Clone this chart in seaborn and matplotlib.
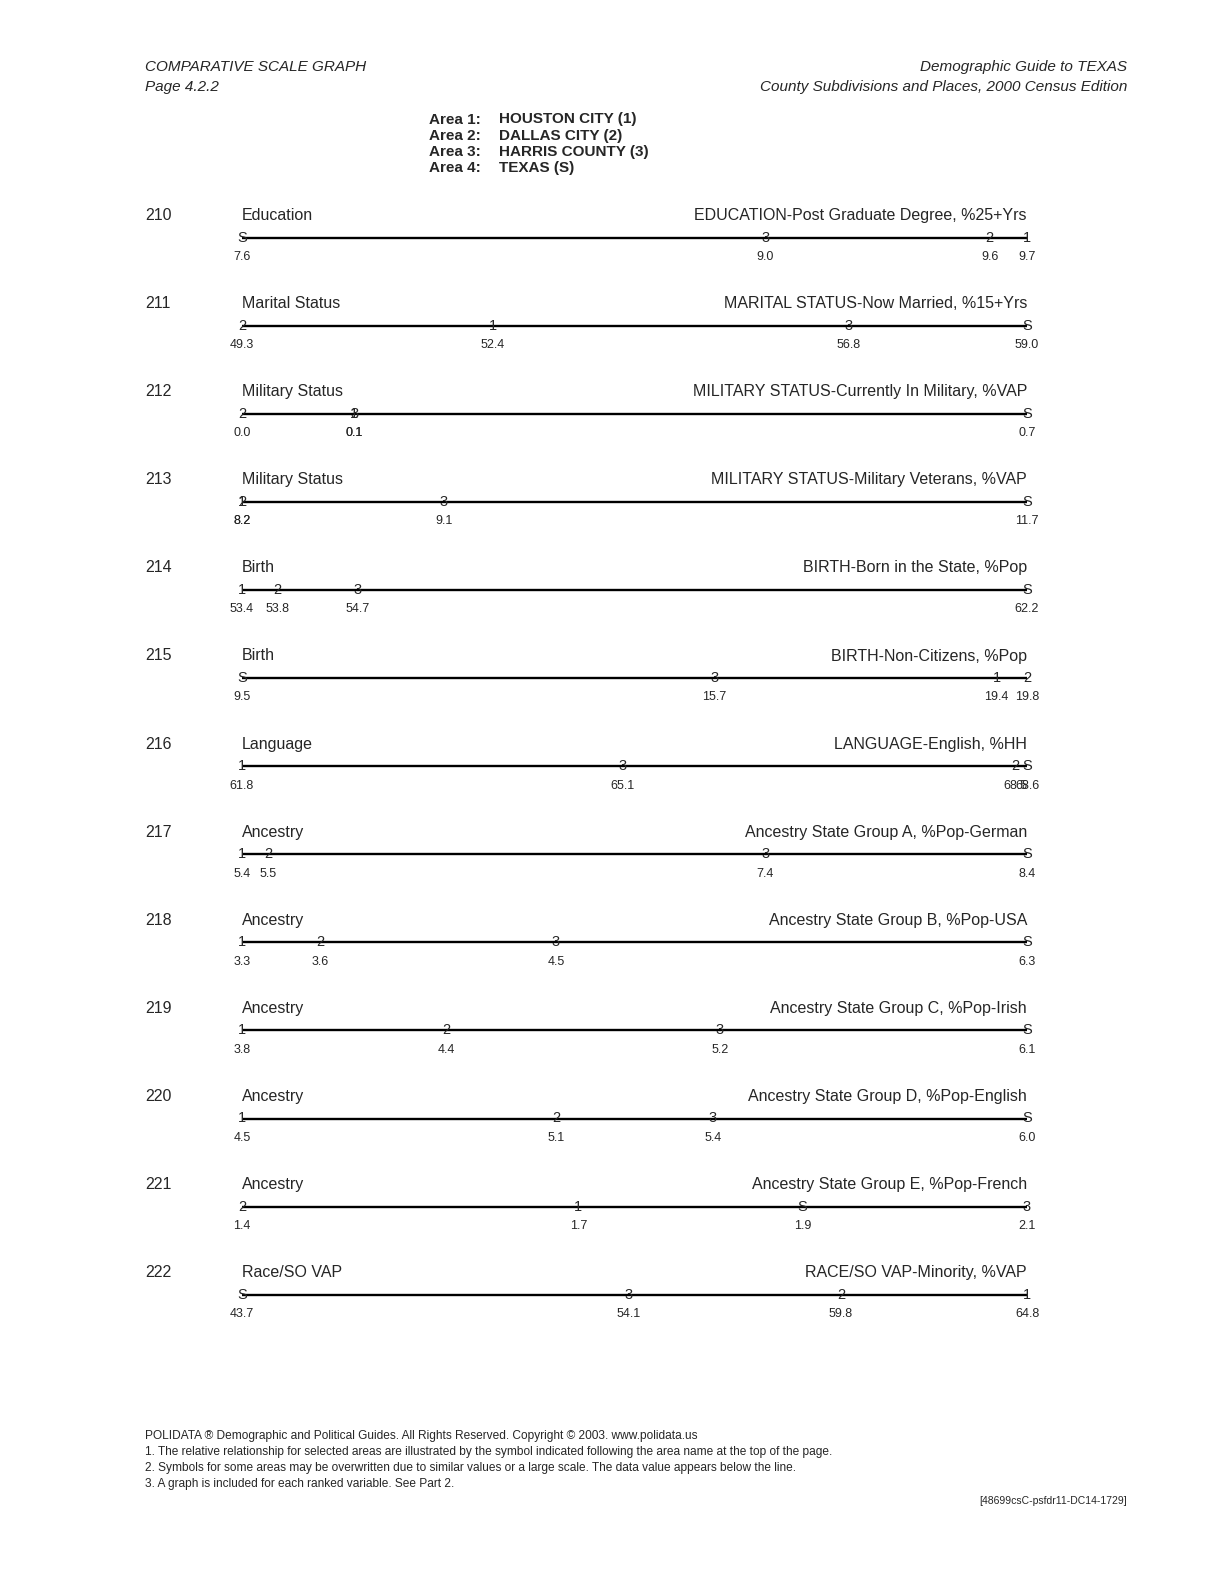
import matplotlib
matplotlib.use("Agg")
import matplotlib.pyplot as plt
import seaborn as sns

sns.set_style("white")
plt.rcParams['font.family'] = ['Liberation Sans', 'DejaVu Sans']

# chart data
row_ids = [210, 211, 212, 213, 214, 215, 216, 217, 218, 219, 220, 221, 222]
groups = ['Education', 'Marital Status', 'Military Status', 'Military Status', 'Birth', 'Birth',
          'Language', 'Ancestry', 'Ancestry', 'Ancestry', 'Ancestry', 'Ancestry', 'Race/SO VAP']
variables = ['EDUCATION-Post Graduate Degree, %25+Yrs',
             'MARITAL STATUS-Now Married, %15+Yrs',
             'MILITARY STATUS-Currently In Military, %VAP',
             'MILITARY STATUS-Military Veterans, %VAP',
             'BIRTH-Born in the State, %Pop',
             'BIRTH-Non-Citizens, %Pop',
             'LANGUAGE-English, %HH',
             'Ancestry State Group A, %Pop-German',
             'Ancestry State Group B, %Pop-USA',
             'Ancestry State Group C, %Pop-Irish',
             'Ancestry State Group D, %Pop-English',
             'Ancestry State Group E, %Pop-French',
             'RACE/SO VAP-Minority, %VAP']
symbols = ['1', '2', '3', 'S']
houston = [9.7, 52.4, 0.1, 8.2, 53.4, 19.4, 61.8, 5.4, 3.3, 3.8, 4.5, 1.7, 64.8]
dallas = [9.6, 49.3, 0.0, 8.2, 53.8, 19.8, 68.5, 5.5, 3.6, 4.4, 5.1, 1.4, 59.8]
harris = [9.0, 56.8, 0.1, 9.1, 54.7, 15.7, 65.1, 7.4, 4.5, 5.2, 5.4, 2.1, 54.1]
texas = [7.6, 59.0, 0.7, 11.7, 62.2, 9.5, 68.6, 8.4, 6.3, 6.1, 6.0, 1.9, 43.7]
area_names = ['HOUSTON CITY (1)', 'DALLAS CITY (2)', 'HARRIS COUNTY (3)', 'TEXAS (S)']
footnotes = ['POLIDATA \u00ae Demographic and Political Guides. All Rights Reserved. Copyright \u00a9 2003. www.polidata.us',
             '1. The relative relationship for selected areas are illustrated by the symbol indicated following the area name at the top of the page.',
             '2. Symbols for some areas may be overwritten due to similar values or a large scale. The data value appears below the line.',
             '3. A graph is included for each ranked variable. See Part 2.']

W, H = 1224, 1583
fig = plt.figure(figsize=(W / 100, H / 100), dpi=100)


def ftext(x, y, s, **kw):
    fig.text(x / W, 1 - y / H, s, **kw)


# header
ftext(145, 67, 'COMPARATIVE SCALE GRAPH', fontsize=11, style='italic', va='center')
ftext(145, 87, 'Page 4.2.2', fontsize=11, style='italic', va='center')
ftext(1127, 67, 'Demographic Guide to TEXAS', fontsize=11, style='italic', va='center', ha='right')
ftext(1127, 87, 'County Subdivisions and Places, 2000 Census Edition', fontsize=11, style='italic',
      va='center', ha='right')

for i, name in enumerate(area_names):
    y = 119.5 + i * 16.2
    ftext(429, y, f'Area {i + 1}:', fontsize=11, weight='bold', va='center')
    ftext(499, y, name, fontsize=11, weight='bold', va='center')

# rows
x0, x1 = 242, 1027
for i in range(len(row_ids)):
    yl = 237.5 + i * 88.1
    vals = [houston[i], dallas[i], harris[i], texas[i]]
    lo, hi = min(vals), max(vals)
    ax = fig.add_axes([x0 / W, 1 - (yl + 20) / H, (x1 - x0) / W, 40 / H])
    sns.lineplot(x=[lo, hi], y=[0, 0], ax=ax, color='black', linewidth=1.7)
    ax.set_xlim(lo, hi)
    ax.set_ylim(-1, 1)
    ax.axis('off')
    for sym, v in zip(symbols, vals):
        ax.text(v, 0, sym, fontsize=10.5, ha='center', va='center', clip_on=False)
        ax.annotate(f'{v:.1f}', xy=(v, 0), xytext=(0, -14), textcoords='offset points',
                    fontsize=9, ha='center', va='center', annotation_clip=False)
    ftext(145, yl - 22, str(row_ids[i]), fontsize=11.5, va='center')
    ftext(242, yl - 22, groups[i], fontsize=11.5, va='center')
    ftext(1027, yl - 22, variables[i], fontsize=11.5, va='center', ha='right')

# footer
for i, note in enumerate(footnotes):
    ftext(145, 1436 + i * 16, note, fontsize=8.6, va='center')
ftext(1127, 1501, '[48699csC-psfdr11-DC14-1729]', fontsize=7.5, va='center', ha='right')

fig.savefig('out.png', dpi=100)
